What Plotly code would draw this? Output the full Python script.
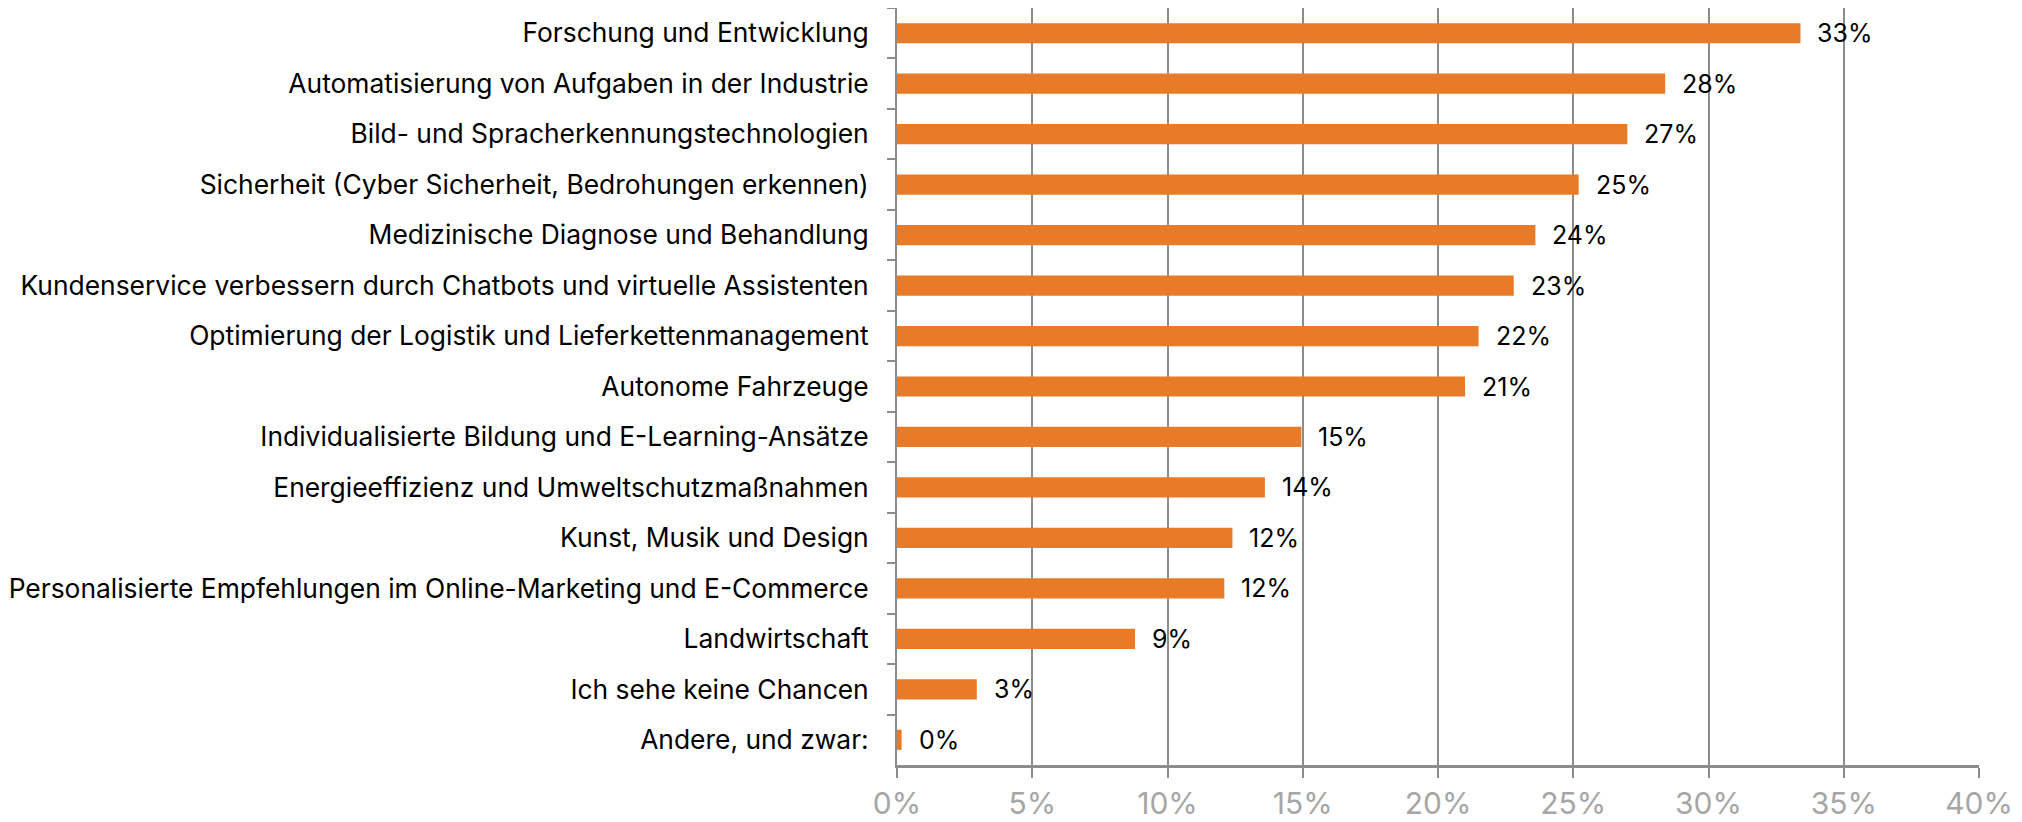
import plotly.graph_objects as go

categories = [
    "Forschung und Entwicklung",
    "Automatisierung von Aufgaben in der Industrie",
    "Bild- und Spracherkennungstechnologien",
    "Sicherheit (Cyber Sicherheit, Bedrohungen erkennen)",
    "Medizinische Diagnose und Behandlung",
    "Kundenservice verbessern durch Chatbots und virtuelle Assistenten",
    "Optimierung der Logistik und Lieferkettenmanagement",
    "Autonome Fahrzeuge",
    "Individualisierte Bildung und E-Learning-Ansätze",
    "Energieeffizienz und Umweltschutzmaßnahmen",
    "Kunst, Musik und Design",
    "Personalisierte Empfehlungen im Online-Marketing und E-Commerce",
    "Landwirtschaft",
    "Ich sehe keine Chancen",
    "Andere, und zwar:",
]
values = [33.4, 28.4, 27.0, 25.2, 23.6, 22.8, 21.5, 21.0, 14.95, 13.6, 12.4, 12.1, 8.8, 2.95, 0.17]
value_labels = ["33%", "28%", "27%", "25%", "24%", "23%", "22%", "21%", "15%", "14%", "12%", "12%", "9%", "3%", "0%"]
x_ticks = [0, 5, 10, 15, 20, 25, 30, 35, 40]

BAR = "#E87A28"
GRID = "#8C8C8C"
FONT = "Inter"

fig = go.Figure()
fig.add_trace(go.Bar(
    x=values, y=categories, orientation="h",
    marker=dict(color=BAR, line=dict(width=0)),
    hoverinfo="skip",
))

for c, v, t in zip(categories, values, value_labels):
    fig.add_annotation(x=v, y=c, text=t, showarrow=False, xanchor="left",
                       yanchor="middle", xshift=15,
                       font=dict(family=FONT, size=25, color="#000000"))

fig.update_layout(
    width=2022, height=822,
    margin=dict(l=889, r=51, t=0, b=65),
    paper_bgcolor="white", plot_bgcolor="white",
    bargap=0.6, showlegend=False,
    font=dict(family=FONT, color="#000000"),
)
fig.update_xaxes(
    range=[0, 40], tickvals=x_ticks, ticktext=[f"{t}%" for t in x_ticks],
    showgrid=True, gridcolor=GRID, gridwidth=2,
    showline=True, linecolor=GRID, linewidth=3,
    ticks="outside", ticklen=10, tickwidth=2, tickcolor=GRID,
    tickfont=dict(family=FONT, size=30, color="#A6A6A6"),
    zeroline=False, fixedrange=True,
)
fig.update_yaxes(
    autorange="reversed", categoryorder="array", categoryarray=categories,
    showline=True, linecolor=GRID, linewidth=2,
    ticks="outside", tickson="boundaries", ticklen=8, tickwidth=2, tickcolor=GRID,
    ticklabelstandoff=21,
    tickfont=dict(family=FONT, size=26.4, color="#000000"),
    showgrid=False, zeroline=False, fixedrange=True,
)

fig.write_html("out.html", config={"displayModeBar": False})
